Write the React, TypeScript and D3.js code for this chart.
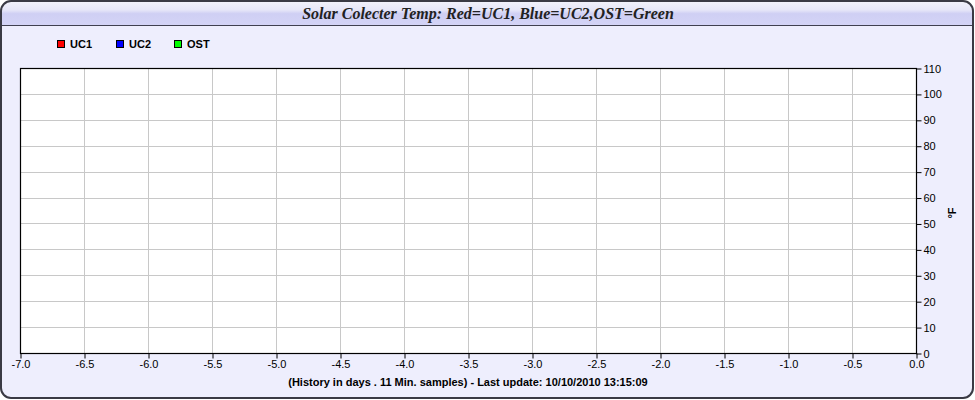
import React, { useEffect, useRef } from "react";
import * as d3 from "d3";

const title = "Solar Colecter Temp: Red=UC1, Blue=UC2,OST=Green";
const seriesNames = ["UC1", "UC2", "OST"];
const seriesColors = ["#ff0000", "#0000ff", "#00ff00"];
const xTicks = [-7.0, -6.5, -6.0, -5.5, -5.0, -4.5, -4.0, -3.5, -3.0, -2.5, -2.0, -1.5, -1.0, -0.5, 0.0];
const yTicks = [0, 10, 20, 30, 40, 50, 60, 70, 80, 90, 100, 110];
const yUnit = "°F";
const footer = "(History in days . 11 Min. samples) - Last update: 10/10/2010 13:15:09";
// No data samples in the reference: empty series
const uc1: [number, number][] = [];
const uc2: [number, number][] = [];
const ost: [number, number][] = [];
const seriesData = [uc1, uc2, ost];

const W = 975, H = 400;
const plot = { left: 20, right: 916, top: 68, bottom: 353 };

export default function App() {
  const ref = useRef<SVGSVGElement>(null);
  useEffect(() => {
    document.body.style.margin = "0";
    const svg = d3.select(ref.current);
    svg.selectAll("*").remove();

    const defs = svg.append("defs");
    const g1 = defs.append("linearGradient").attr("id", "tb").attr("x1", 0).attr("y1", 0).attr("x2", 0).attr("y2", 1);
    g1.append("stop").attr("offset", "0%").attr("stop-color", "#f4f4fb");
    g1.append("stop").attr("offset", "40%").attr("stop-color", "#e6e6f8");
    g1.append("stop").attr("offset", "55%").attr("stop-color", "#cfcff4");
    g1.append("stop").attr("offset", "100%").attr("stop-color", "#d4d4f6");
    const clip = defs.append("clipPath").attr("id", "frameclip");
    clip.append("rect").attr("x", 1).attr("y", 1).attr("width", W - 3).attr("height", H - 3).attr("rx", 10);

    svg.append("rect").attr("x", 1).attr("y", 1).attr("width", W - 3).attr("height", H - 3)
      .attr("rx", 10).attr("fill", "#eeeefd");
    svg.append("g").attr("clip-path", "url(#frameclip)")
      .append("rect").attr("x", 0).attr("y", 0).attr("width", W).attr("height", 25).attr("fill", "url(#tb)");
    svg.append("line").attr("x1", 1).attr("x2", W - 2).attr("y1", 25.5).attr("y2", 25.5)
      .attr("stroke", "#404050").attr("stroke-width", 1.2);
    svg.append("rect").attr("x", 1).attr("y", 1).attr("width", W - 3).attr("height", H - 3)
      .attr("rx", 10).attr("fill", "none").attr("stroke", "#3a3a44").attr("stroke-width", 2);

    svg.append("text").attr("x", 488).attr("y", 19).attr("text-anchor", "middle")
      .attr("font-family", "'Liberation Serif', 'DejaVu Serif', serif").attr("font-style", "italic")
      .attr("font-weight", "bold").attr("font-size", 16).attr("fill", "#222").text(title);

    const legendX = [57, 116, 174];
    seriesNames.forEach((n, i) => {
      svg.append("rect").attr("x", legendX[i] + 0.5).attr("y", 40.5).attr("width", 7).attr("height", 7)
        .attr("fill", seriesColors[i]).attr("stroke", "#000").attr("stroke-width", 1);
      svg.append("text").attr("x", legendX[i] + 13).attr("y", 48)
        .attr("font-family", "'Liberation Sans', Arial, sans-serif").attr("font-weight", "bold")
        .attr("font-size", 11).attr("fill", "#000").text(n);
    });

    const x = d3.scaleLinear().domain([-7, 0]).range([plot.left, plot.right]);
    const y = d3.scaleLinear().domain([0, 110]).range([plot.bottom, plot.top]);

    svg.append("rect").attr("x", plot.left).attr("y", plot.top)
      .attr("width", plot.right - plot.left).attr("height", plot.bottom - plot.top).attr("fill", "#fff");

    const grid = svg.append("g").attr("stroke", "#c8c8c8").attr("stroke-width", 1);
    xTicks.forEach(t => {
      const px = Math.round(x(t)) + 0.5;
      grid.append("line").attr("x1", px).attr("x2", px).attr("y1", plot.top).attr("y2", plot.bottom);
    });
    yTicks.forEach(t => {
      const py = Math.round(y(t)) + 0.5;
      grid.append("line").attr("x1", plot.left).attr("x2", plot.right).attr("y1", py).attr("y2", py);
    });

    const line = d3.line<[number, number]>().x(d => x(d[0])).y(d => y(d[1]));
    seriesData.forEach((s, i) => {
      if (s.length) svg.append("path").attr("d", line(s)).attr("fill", "none").attr("stroke", seriesColors[i]);
    });

    svg.append("rect").attr("x", plot.left + 0.5).attr("y", plot.top + 0.5)
      .attr("width", plot.right - plot.left).attr("height", plot.bottom - plot.top)
      .attr("fill", "none").attr("stroke", "#000").attr("stroke-width", 1.2);

    const font = "'Liberation Sans', Arial, sans-serif";
    const xAxis = d3.axisBottom(x).tickValues(xTicks)
      .tickFormat(d => (+d).toFixed(1)).tickSize(5).tickSizeOuter(0);
    const gx = svg.append("g").attr("transform", `translate(0.5,${plot.bottom + 0.5})`).call(xAxis);
    gx.select(".domain").remove();
    gx.selectAll("line").attr("stroke", "#000");
    gx.selectAll("text").attr("font-family", font).attr("font-size", 11).attr("fill", "#000").attr("dy", "0.6em");

    const yAxis = d3.axisRight(y).tickValues(yTicks).tickFormat(d => String(d)).tickSize(5).tickSizeOuter(0);
    const gy = svg.append("g").attr("transform", `translate(${plot.right + 0.5},0.5)`).call(yAxis);
    gy.select(".domain").remove();
    gy.selectAll("line").attr("stroke", "#000");
    gy.selectAll("text").attr("font-family", font).attr("font-size", 11).attr("fill", "#000").attr("x", 7);

    svg.append("text").attr("transform", "translate(956,213) rotate(-90)").attr("text-anchor", "middle")
      .attr("font-family", font).attr("font-weight", "bold").attr("font-size", 11).attr("fill", "#000").text(yUnit);

    svg.append("text").attr("x", 468).attr("y", 386).attr("text-anchor", "middle")
      .attr("font-family", font).attr("font-weight", "bold").attr("font-size", 11).attr("fill", "#000").text(footer);
  }, []);
  return <svg ref={ref} width={W} height={H} style={{ display: "block" }} />;
}
